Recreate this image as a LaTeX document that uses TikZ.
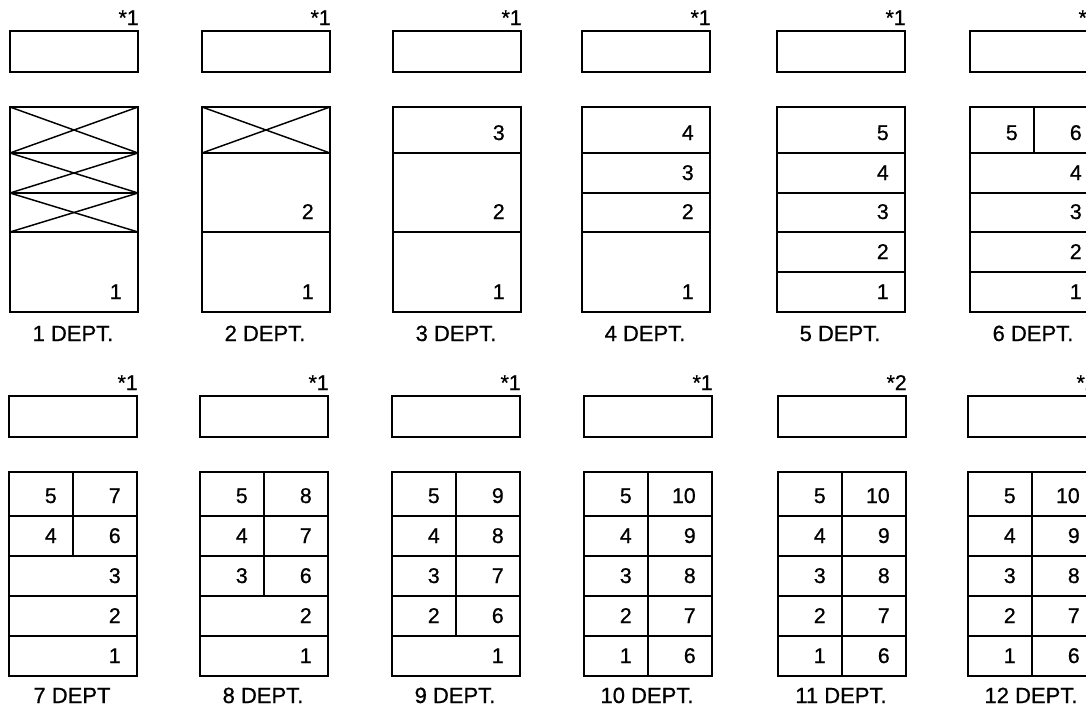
\documentclass[tikz,border=0pt]{standalone}
\usepackage{fontspec}
\setmainfont{Liberation Sans}
\newfontfamily\heavyfont{Liberation Sans}[FakeBold=0.7]
\newcommand\numat[3]{\node[num] (n-#1-#2) at (#1-16,#2-13) {#3};}
\begin{document}
\begin{tikzpicture}[x=0.75pt,y=-0.75pt,
  box/.style={line width=1.6pt},
  divline/.style={line width=1.5pt},
  crossline/.style={line width=1.1pt},
  num/.style={font=\heavyfont\fontsize{16}{18}\selectfont, inner sep=0pt, anchor=base east},
  starlbl/.style={font=\heavyfont\fontsize{16}{18}\selectfont, inner sep=0pt, anchor=base east},
  deptlbl/.style={font=\heavyfont\fontsize{16.5}{18}\selectfont, inner sep=0pt, anchor=base}]
\useasboundingbox (0,0) rectangle (1086,707);
\clip (0,0) rectangle (1086,707);
\fill[white] (0,0) rectangle (1086,707);

% ---------- top row ----------
\foreach \L/\n in {10/1,202/2,393/3,582/4,777/5,970/6}{
  \draw[box] (\L,31) rectangle (\L+128,72);
  \node[starlbl] (s\n) at (\L+129,25) {*1};
  \draw[box] (\L,107) rectangle (\L+128,312);
  \node[deptlbl] (d\n) at (\L+63,341) {\n\ DEPT.};
}
% col 1
\foreach \y in {153,193,232} \draw[divline] (10,\y) -- (138,\y);
\foreach \a/\b in {107/153,153/193,193/232}{
  \draw[crossline] (10,\a) -- (138,\b);
  \draw[crossline] (10,\b) -- (138,\a);
}
\numat{138}{312}{1}
% col 2
\foreach \y in {153,232} \draw[divline] (202,\y) -- (330,\y);
\draw[crossline] (202,107) -- (330,153);
\draw[crossline] (202,153) -- (330,107);
\numat{330}{232}{2}
\numat{330}{312}{1}
% col 3
\foreach \y in {153,232} \draw[divline] (393,\y) -- (521,\y);
\numat{521}{153}{3}
\numat{521}{232}{2}
\numat{521}{312}{1}
% col 4
\foreach \y in {153,193,232} \draw[divline] (582,\y) -- (710,\y);
\numat{710}{153}{4}
\numat{710}{193}{3}
\numat{710}{232}{2}
\numat{710}{312}{1}
% col 5
\foreach \y in {153,193,232,272} \draw[divline] (777,\y) -- (905,\y);
\numat{905}{153}{5}
\numat{905}{193}{4}
\numat{905}{232}{3}
\numat{905}{272}{2}
\numat{905}{312}{1}
% col 6
\foreach \y in {153,193,232,272} \draw[divline] (970,\y) -- (1098,\y);
\draw[divline] (1034,107) -- (1034,153);
\numat{1034}{153}{5}
\numat{1098}{153}{6}
\numat{1098}{193}{4}
\numat{1098}{232}{3}
\numat{1098}{272}{2}
\numat{1098}{312}{1}

% ---------- bottom row ----------
\foreach \L/\n/\s/\t in {9/7/1/7 DEPT,200/8/1/8 DEPT.,392/9/1/9 DEPT.,584/10/1/10 DEPT.,778/11/2/11 DEPT.,968/12/2/12 DEPT.}{
  \draw[box] (\L,396) rectangle (\L+128,437);
  \node[starlbl] (s\n) at (\L+129,390) {*\s};
  \draw[box] (\L,472) rectangle (\L+128,676);
  \foreach \y in {516,556,596,636} \draw[divline] (\L,\y) -- (\L+128,\y);
  \node[deptlbl] (d\n) at (\L+63,703) {\t};
}
% col 7
\draw[divline] (73,472) -- (73,556);
\numat{73}{516}{5}
\numat{73}{556}{4}
\numat{137}{516}{7}
\numat{137}{556}{6}
\numat{137}{596}{3}
\numat{137}{636}{2}
\numat{137}{676}{1}
% col 8
\draw[divline] (264,472) -- (264,596);
\numat{264}{516}{5}
\numat{264}{556}{4}
\numat{264}{596}{3}
\numat{328}{516}{8}
\numat{328}{556}{7}
\numat{328}{596}{6}
\numat{328}{636}{2}
\numat{328}{676}{1}
% col 9
\draw[divline] (456,472) -- (456,636);
\numat{456}{516}{5}
\numat{456}{556}{4}
\numat{456}{596}{3}
\numat{456}{636}{2}
\numat{520}{516}{9}
\numat{520}{556}{8}
\numat{520}{596}{7}
\numat{520}{636}{6}
\numat{520}{676}{1}
% cols 10-12
\foreach \L in {584,778,968}{
  \draw[divline] (\L+64,472) -- (\L+64,676);
  \foreach \b/\l/\r in {516/5/10,556/4/9,596/3/8,636/2/7,676/1/6}{
    \node[num] at (\L+64-16,\b-13) {\l};
    \node[num] at (\L+128-16,\b-13) {\r};
  }
}
\end{tikzpicture}
\end{document}
